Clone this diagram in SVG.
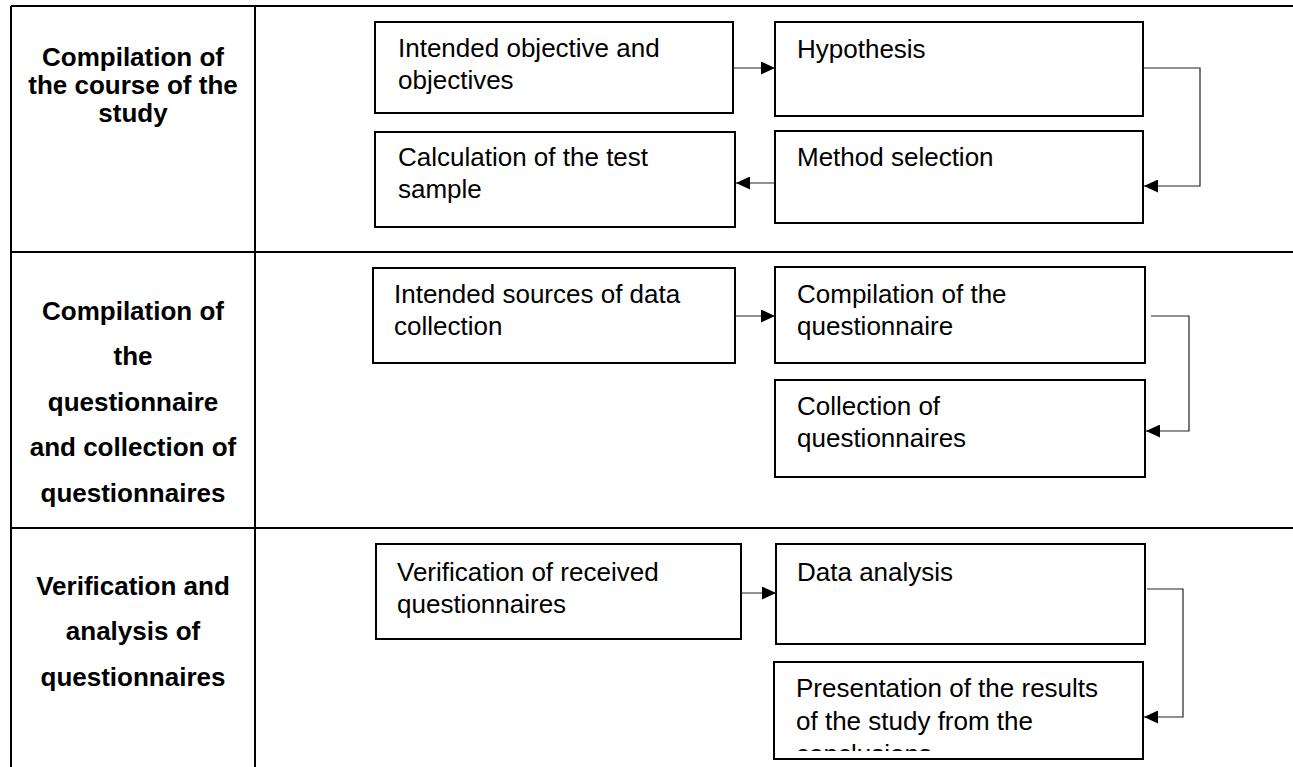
<svg xmlns="http://www.w3.org/2000/svg" width="1293" height="767" viewBox="0 0 1293 767">
<style>
  .grid { stroke:#000; stroke-width:2; fill:none; }
  .box { fill:#fff; stroke:#000; stroke-width:2; }
  .conn { fill:none; stroke:#222; stroke-width:1.2; }
  .lbl { font-family:"Liberation Sans", Arial, sans-serif; font-size:26px; font-weight:bold; fill:#000; text-anchor:middle; }
  .txt { font-family:"Liberation Sans", Arial, sans-serif; font-size:26px; fill:#000; }
</style>
<defs>
  <marker id="ah" viewBox="0 0 14 13" refX="14" refY="6.5" markerWidth="14" markerHeight="13" markerUnits="userSpaceOnUse" orient="auto">
    <path d="M0,0 L14,6.5 L0,13 Z" fill="#000"/>
  </marker>
  <clipPath id="clipPres"><rect x="774" y="662" width="369" height="89"/></clipPath>
</defs>
<rect width="1293" height="767" fill="#fff"/>
<g id="table">
  <line class="grid" x1="11" y1="6" x2="1293" y2="6"/>
  <line class="grid" x1="11" y1="252" x2="1293" y2="252"/>
  <line class="grid" x1="11" y1="528" x2="1293" y2="528"/>
  <line class="grid" x1="11" y1="6" x2="11" y2="767"/>
  <line class="grid" x1="255" y1="6" x2="255" y2="767"/>
</g>
<g id="label1">
  <text class="lbl" x="133" y="66">Compilation of</text>
  <text class="lbl" x="133" y="94">the course of the</text>
  <text class="lbl" x="133" y="122">study</text>
</g>
<g id="label2">
  <text class="lbl" x="133" y="320">Compilation of</text>
  <text class="lbl" x="133" y="365">the</text>
  <text class="lbl" x="133" y="411">questionnaire</text>
  <text class="lbl" x="133" y="456">and collection of</text>
  <text class="lbl" x="133" y="502">questionnaires</text>
</g>
<g id="label3">
  <text class="lbl" x="133" y="595">Verification and</text>
  <text class="lbl" x="133" y="640">analysis of</text>
  <text class="lbl" x="133" y="686">questionnaires</text>
</g>
<g id="objectives">
  <rect class="box" x="375" y="22" width="358" height="91"/>
  <text class="txt" x="398" y="57">Intended objective and</text>
  <text class="txt" x="398" y="89">objectives</text>
</g>
<g id="hypothesis">
  <rect class="box" x="775" y="22" width="368" height="94"/>
  <text class="txt" x="797" y="58">Hypothesis</text>
</g>
<g id="calculation">
  <rect class="box" x="375" y="132" width="360" height="95"/>
  <text class="txt" x="398" y="166">Calculation of the test</text>
  <text class="txt" x="398" y="198">sample</text>
</g>
<g id="method">
  <rect class="box" x="775" y="131" width="368" height="92"/>
  <text class="txt" x="797" y="166">Method selection</text>
</g>
<g id="sources">
  <rect class="box" x="373" y="268" width="362" height="95"/>
  <text class="txt" x="394" y="303">Intended sources of data</text>
  <text class="txt" x="394" y="335">collection</text>
</g>
<g id="compilation">
  <rect class="box" x="775" y="267" width="370" height="96"/>
  <text class="txt" x="797" y="303">Compilation of the</text>
  <text class="txt" x="797" y="335">questionnaire</text>
</g>
<g id="collection">
  <rect class="box" x="775" y="380" width="370" height="97"/>
  <text class="txt" x="797" y="415">Collection of</text>
  <text class="txt" x="797" y="447">questionnaires</text>
</g>
<g id="verification">
  <rect class="box" x="376" y="544" width="365" height="95"/>
  <text class="txt" x="397" y="581">Verification of received</text>
  <text class="txt" x="397" y="613">questionnaires</text>
</g>
<g id="analysis">
  <rect class="box" x="776" y="544" width="369" height="100"/>
  <text class="txt" x="797" y="581">Data analysis</text>
</g>
<g id="presentation">
  <rect class="box" x="774" y="662" width="369" height="97"/>
  <g clip-path="url(#clipPres)">
    <text class="txt" x="796" y="697">Presentation of the results</text>
    <text class="txt" x="796" y="730">of the study from the</text>
    <text class="txt" x="796" y="763">conclusions</text>
  </g>
</g>
<g id="connectors">
  <line class="conn" x1="733" y1="68" x2="775" y2="68" marker-end="url(#ah)"/>
  <polyline class="conn" points="1143,68 1200,68 1200,186 1144,186" marker-end="url(#ah)"/>
  <line class="conn" x1="775" y1="183" x2="736" y2="183" marker-end="url(#ah)"/>
  <line class="conn" x1="735" y1="316" x2="775" y2="316" marker-end="url(#ah)"/>
  <polyline class="conn" points="1151,316 1189,316 1189,431 1146,431" marker-end="url(#ah)"/>
  <line class="conn" x1="741" y1="593" x2="776" y2="593" marker-end="url(#ah)"/>
  <polyline class="conn" points="1147,589 1183,589 1183,717 1144,717" marker-end="url(#ah)"/>
</g>
</svg>
